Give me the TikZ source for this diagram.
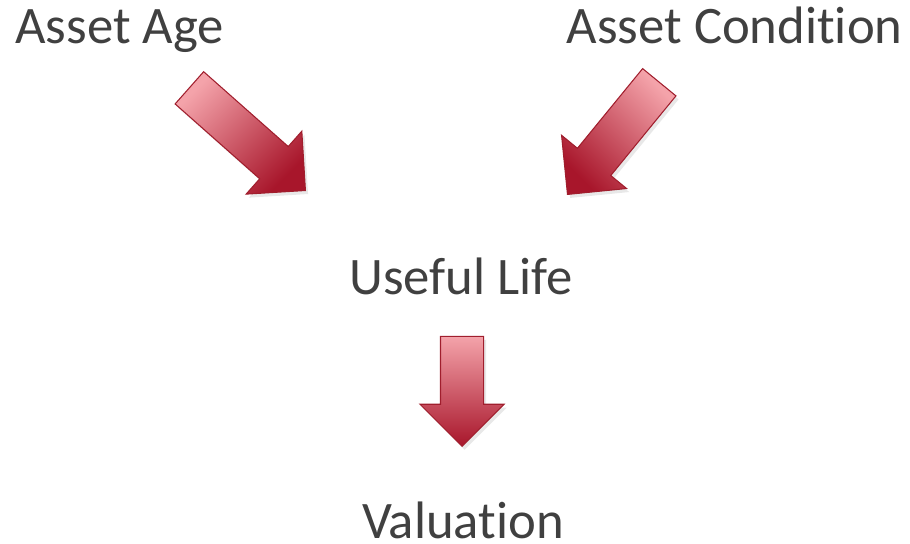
\documentclass[tikz,border=0pt]{standalone}
\usepackage{fontspec}
\setmainfont[Ligatures=NoCommon]{Carlito}
\usetikzlibrary{shapes.arrows,shadows}
\definecolor{labelgray}{RGB}{64,64,64}
\definecolor{arrowlight}{RGB}{244,163,170}
\definecolor{arrowdark}{RGB}{168,22,43}
\definecolor{arrowline}{RGB}{160,30,45}

\tikzset{
  label/.style={font=\fontsize{30}{36}\selectfont, text=labelgray, inner sep=0pt},
  flowarrow/.style={single arrow, draw=arrowline, line width=0.6pt,
    top color=arrowlight, bottom color=arrowdark,
    inner xsep=0pt, inner ysep=0.42cm, minimum width=1.66cm,
    single arrow head extend=0.41cm, single arrow tip angle=90,
    anchor=tip,
    drop shadow={opacity=0.18, shadow xshift=1.5pt, shadow yshift=-2pt}}
}

\begin{document}
\begin{tikzpicture}[x=0.02cm, y=-0.02cm]
\useasboundingbox (0,0) rectangle (910,544);

% the two inputs and what they feed into
\node[label, anchor=base west] (age) at (15,44) {Asset Age};
\node[label, anchor=base east] (cond) at (903,44) {Asset Condition};
\node[label, anchor=base] (life) at (461,294) {Useful Life};
\node[label, anchor=base, text depth=0pt] (val) at (463,538) {Valuation};

% block arrows
\node[flowarrow, minimum height=3.1cm, rotate=-41.5, shading angle=45] (agearrow) at (306,191) {};
\node[flowarrow, minimum height=2.9cm, rotate=-129.3, shading angle=-45] (condarrow) at (567,195) {};
\node[flowarrow, minimum height=2.2cm, rotate=-90] (lifearrow) at (462,447) {};
\end{tikzpicture}
\end{document}
